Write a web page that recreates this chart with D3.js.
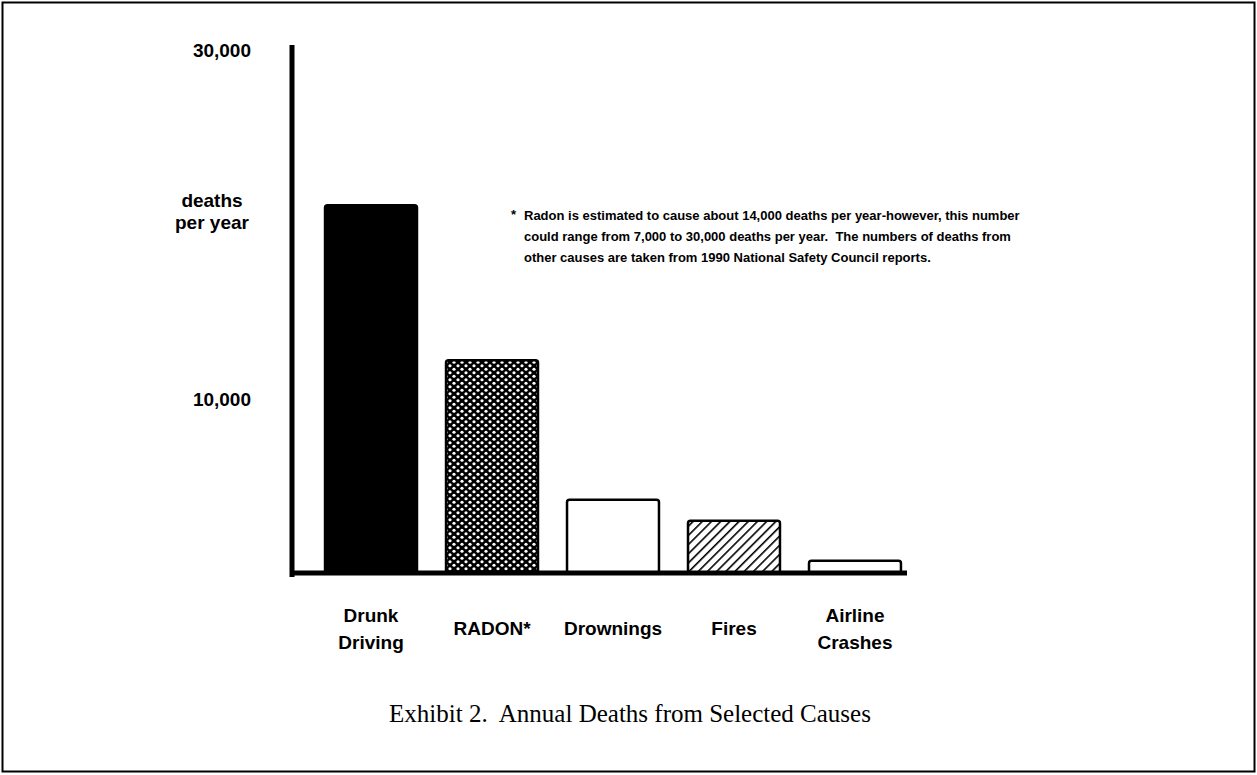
<!DOCTYPE html>
<html>
<head>
<meta charset="utf-8">
<script src="https://cdn.jsdelivr.net/npm/d3@7"></script>
<style>
  html, body { margin: 0; padding: 0; background: #fff; }
  svg { display: block; }
  text { white-space: pre; }
  .lbl { font-family: "Liberation Sans", Arial, sans-serif; font-weight: bold; fill: #000; }
  .cap { font-family: "Liberation Serif", "Times New Roman", serif; fill: #000; }
</style>
</head>
<body>
<svg id="chart" width="1257" height="775"></svg>
<script>
// ---- data ----
const categories = ["Drunk Driving", "RADON*", "Drownings", "Fires", "Airline Crashes"];
const categoryLines = [["Drunk", "Driving"], ["RADON*"], ["Drownings"], ["Fires"], ["Airline", "Crashes"]];
const deathsPerYear = [21100, 12200, 4200, 3000, 700];
const tickValues = [10000, 30000];
const tickLabels = ["10,000", "30,000"];
const yTitle = ["deaths", "per year"];
const noteLines = [
  "Radon is estimated to cause about 14,000 deaths per year-however, this number",
  "could range from 7,000 to 30,000 deaths per year.  The numbers of deaths from",
  "other causes are taken from 1990 National Safety Council reports."
];
const caption = "Exhibit 2.  Annual Deaths from Selected Causes";

// ---- drawing ----
const svg = d3.select("#chart");
const W = 1257, H = 775;

// outer frame
svg.append("rect")
  .attr("x", 2.5).attr("y", 2.5)
  .attr("width", W - 5).attr("height", H - 6)
  .attr("fill", "none").attr("stroke", "#000").attr("stroke-width", 2);

const defs = svg.append("defs");
// dense dot pattern (radon)
const dots = defs.append("pattern").attr("id", "dots")
  .attr("patternUnits", "userSpaceOnUse").attr("width", 8).attr("height", 7);
dots.append("rect").attr("width", 8).attr("height", 7).attr("fill", "#000");
dots.append("circle").attr("cx", 2).attr("cy", 1.75).attr("r", 1.6).attr("fill", "#fff");
dots.append("circle").attr("cx", 6).attr("cy", 5.25).attr("r", 1.6).attr("fill", "#fff");
// diagonal hatch (fires)
const hatch = defs.append("pattern").attr("id", "hatch")
  .attr("patternUnits", "userSpaceOnUse").attr("width", 6.5).attr("height", 6.5)
  .attr("patternTransform", "rotate(45)");
hatch.append("rect").attr("width", 6.5).attr("height", 6.5).attr("fill", "#fff");
hatch.append("line").attr("x1", 0).attr("y1", 0).attr("x2", 0).attr("y2", 6.5)
  .attr("stroke", "#000").attr("stroke-width", 3.2);

const barFills = ["#000", "url(#dots)", "#fff", "url(#hatch)", "#fff"];

const x = d3.scaleBand()
  .domain(categories)
  .range([296, 930])
  .paddingInner(0.24)
  .paddingOuter(0.24);

const y = d3.scaleLinear()
  .domain([0, 30000])
  .range([573, 50]);

const axisX = 292;

// bars
svg.append("g").selectAll("rect")
  .data(categories)
  .join("rect")
  .attr("x", d => x(d))
  .attr("y", (d, i) => y(deathsPerYear[i]))
  .attr("width", x.bandwidth())
  .attr("height", (d, i) => y(0) - y(deathsPerYear[i]))
  .attr("rx", 2.5)
  .attr("fill", (d, i) => barFills[i])
  .attr("stroke", "#000")
  .attr("stroke-width", 2.5);

// y axis line
svg.append("line")
  .attr("x1", axisX).attr("x2", axisX)
  .attr("y1", y(0) + 4).attr("y2", y(30000) - 5)
  .attr("stroke", "#000").attr("stroke-width", 5);

// baseline
svg.append("line")
  .attr("x1", axisX - 2).attr("x2", x.range()[1] - 23)
  .attr("y1", y(0)).attr("y2", y(0))
  .attr("stroke", "#000").attr("stroke-width", 5);

// y tick labels
svg.append("g").selectAll("text")
  .data(tickValues)
  .join("text")
  .attr("class", "lbl")
  .attr("x", axisX - 41)
  .attr("y", d => y(d) + 7)
  .attr("text-anchor", "end")
  .attr("font-size", 19)
  .text((d, i) => tickLabels[i]);

// y title
svg.append("text")
  .attr("class", "lbl")
  .attr("font-size", 19)
  .attr("text-anchor", "middle")
  .selectAll("tspan")
  .data(yTitle)
  .join("tspan")
  .attr("x", axisX - 80)
  .attr("y", (d, i) => 207 + i * 22)
  .text(d => d);

// x labels
const lineGap = 27;
const xl = svg.append("g").selectAll("text")
  .data(categories)
  .join("text")
  .attr("class", "lbl")
  .attr("font-size", 19)
  .attr("text-anchor", "middle");
xl.selectAll("tspan")
  .data((d, i) => categoryLines[i].map((t, j, arr) => ({ t, j, n: arr.length, c: d })))
  .join("tspan")
  .attr("x", d => x(d.c) + x.bandwidth() / 2)
  .attr("y", d => 635 + (d.j - (d.n - 1) / 2) * lineGap)
  .text(d => d.t);

// footnote
svg.append("text")
  .attr("class", "lbl")
  .attr("font-size", 13)
  .attr("x", 511).attr("y", 219)
  .text("*");
svg.append("g").selectAll("text")
  .data(noteLines)
  .join("text")
  .attr("class", "lbl")
  .attr("font-size", 13)
  .attr("x", 524)
  .attr("y", (d, i) => 220 + i * 21)
  .text(d => d);

// caption
svg.append("text")
  .attr("class", "cap")
  .attr("font-size", 25)
  .attr("x", (x.range()[0] + x.range()[1]) / 2 + 17)
  .attr("y", 722)
  .attr("text-anchor", "middle")
  .text(caption);
</script>
</body>
</html>
